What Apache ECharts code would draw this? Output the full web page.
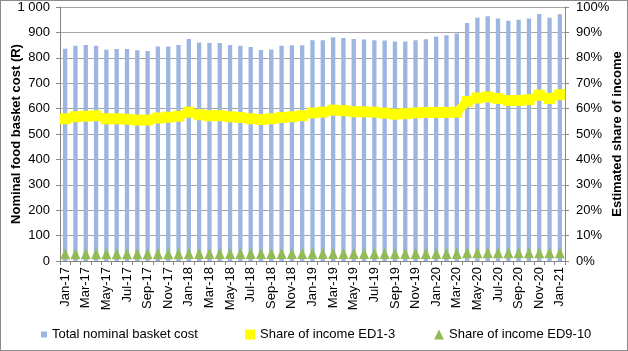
<!DOCTYPE html>
<html>
<head>
<meta charset="utf-8">
<script src="https://cdn.jsdelivr.net/npm/echarts@6/dist/echarts.min.js"></script>
<style>
html,body{margin:0;padding:0;background:#fff;}
#c{width:628px;height:351px;box-sizing:border-box;border:1px solid #8c8c8c;}
</style>
</head>
<body>
<div id="c"></div>
<script>
const months = ['Jan-17','Feb-17','Mar-17','Apr-17','May-17','Jun-17','Jul-17','Aug-17','Sep-17','Oct-17','Nov-17','Dec-17',
'Jan-18','Feb-18','Mar-18','Apr-18','May-18','Jun-18','Jul-18','Aug-18','Sep-18','Oct-18','Nov-18','Dec-18',
'Jan-19','Feb-19','Mar-19','Apr-19','May-19','Jun-19','Jul-19','Aug-19','Sep-19','Oct-19','Nov-19','Dec-19',
'Jan-20','Feb-20','Mar-20','Apr-20','May-20','Jun-20','Jul-20','Aug-20','Sep-20','Oct-20','Nov-20','Dec-20','Jan-21'];

const basketCost = [836,847,850,847,832,835,835,830,827,844,844,850,
874,860,858,858,850,847,843,831,833,847,849,849,
869,869,881,878,874,872,869,868,864,864,869,873,
884,889,896,937,958,964,955,946,950,955,972,958,971];

const shareED13 = [56.0,56.8,57.0,57.2,56.0,56.0,55.8,55.5,55.5,56.3,56.6,57.0,
58.6,57.6,57.2,57.2,56.8,56.5,56.0,55.7,56.0,56.5,56.8,57.2,
58.3,58.6,59.4,59.2,58.8,58.7,58.6,58.2,57.8,58.0,58.3,58.5,
58.5,58.5,58.6,62.8,64.2,64.6,64.0,63.2,63.2,63.5,65.3,64.0,65.5];

const shareED910 = [2.9,2.9,2.9,2.9,2.9,2.9,2.9,2.9,2.9,2.9,2.9,2.9,
3.0,3.0,3.0,3.0,3.0,3.0,3.0,3.0,3.0,3.0,3.0,3.0,
3.0,3.0,3.0,3.0,3.0,3.0,3.0,3.0,3.0,3.0,3.0,3.0,
3.0,3.0,3.0,3.2,3.2,3.2,3.2,3.2,3.2,3.2,3.2,3.2,3.2];

const leftTicks = {min:0, max:1000, interval:100};
const rightTicks = {min:0, max:100, interval:10};

const FONT = "'Liberation Sans', Arial, sans-serif";
const chart = echarts.init(document.getElementById('c'), null, {renderer:'canvas'});
const txt = {fontFamily: FONT, fontSize: 13, color: '#000'};

chart.setOption({
  animation: false,
  backgroundColor: '#fff',
  grid: {left: 59, right: 62, top: 6, bottom: 89, containLabel: false, outerBoundsMode: 'none'},
  legend: [
    {left: 40, top: 327, padding: 0, itemWidth: 6, itemHeight: 6, itemGap: 5, textStyle: txt,
     data: [{name: 'Total nominal basket cost', icon: 'rect'}]},
    {left: 244, top: 327, padding: 0, itemWidth: 10, itemHeight: 10, textStyle: txt,
     data: [{name: 'Share of income ED1-3', icon: 'rect'}]},
    {left: 433, top: 327, padding: 0, itemWidth: 10, itemHeight: 10, textStyle: txt,
     data: [{name: 'Share of income ED9-10', icon: 'triangle'}]}
  ],
  xAxis: {
    type: 'category',
    data: months,
    boundaryGap: true,
    axisLine: {lineStyle: {color: '#868686'}},
    axisTick: {show: true, interval: 0, length: 4, lineStyle: {color: '#868686'}},
    axisLabel: Object.assign({}, txt, {rotate: 90, interval: 1, margin: 6})
  },
  yAxis: [
    {
      type: 'value', min: leftTicks.min, max: leftTicks.max, interval: leftTicks.interval,
      name: 'Nominal food basket cost (R)', nameLocation: 'middle', nameGap: 37, nameMoveOverlap: false,
      nameTextStyle: {fontFamily: FONT, fontSize: 13, fontWeight: 'bold', color: '#000'},
      axisLine: {show: true, lineStyle: {color: '#868686'}},
      axisTick: {show: true, length: 4, lineStyle: {color: '#868686'}},
      splitLine: {show: true, lineStyle: {color: '#a6a6a6', width: 1}},
      axisLabel: Object.assign({}, txt, {margin: 10, formatter: v => v === 1000 ? '1 000' : String(v)})
    },
    {
      type: 'value', min: rightTicks.min, max: rightTicks.max, interval: rightTicks.interval,
      position: 'right',
      name: 'Estimated share of income', nameLocation: 'middle', nameGap: 46, nameMoveOverlap: false,
      nameTextStyle: {fontFamily: FONT, fontSize: 13, fontWeight: 'bold', color: '#000'},
      axisLine: {show: true, lineStyle: {color: '#868686'}},
      axisTick: {show: true, length: 4, lineStyle: {color: '#868686'}},
      splitLine: {show: false},
      axisLabel: Object.assign({}, txt, {margin: 11, formatter: '{value}%'})
    }
  ],
  series: [
    {
      name: 'Total nominal basket cost', type: 'bar', yAxisIndex: 0,
      data: basketCost, barWidth: '42%',
      itemStyle: {color: '#9cb6e1'}
    },
    {
      name: 'Share of income ED1-3', type: 'line', yAxisIndex: 1,
      data: shareED13, symbol: 'rect', symbolSize: 11, showSymbol: true, showAllSymbol: true,
      lineStyle: {color: '#ffff00', width: 9},
      itemStyle: {color: '#ffff00'}
    },
    {
      name: 'Share of income ED9-10', type: 'line', yAxisIndex: 1,
      data: shareED910, symbol: 'triangle', symbolSize: [10, 11], showSymbol: true, showAllSymbol: true,
      lineStyle: {width: 0, opacity: 0},
      itemStyle: {color: '#92bb55'}
    }
  ]
});
</script>
</body>
</html>
